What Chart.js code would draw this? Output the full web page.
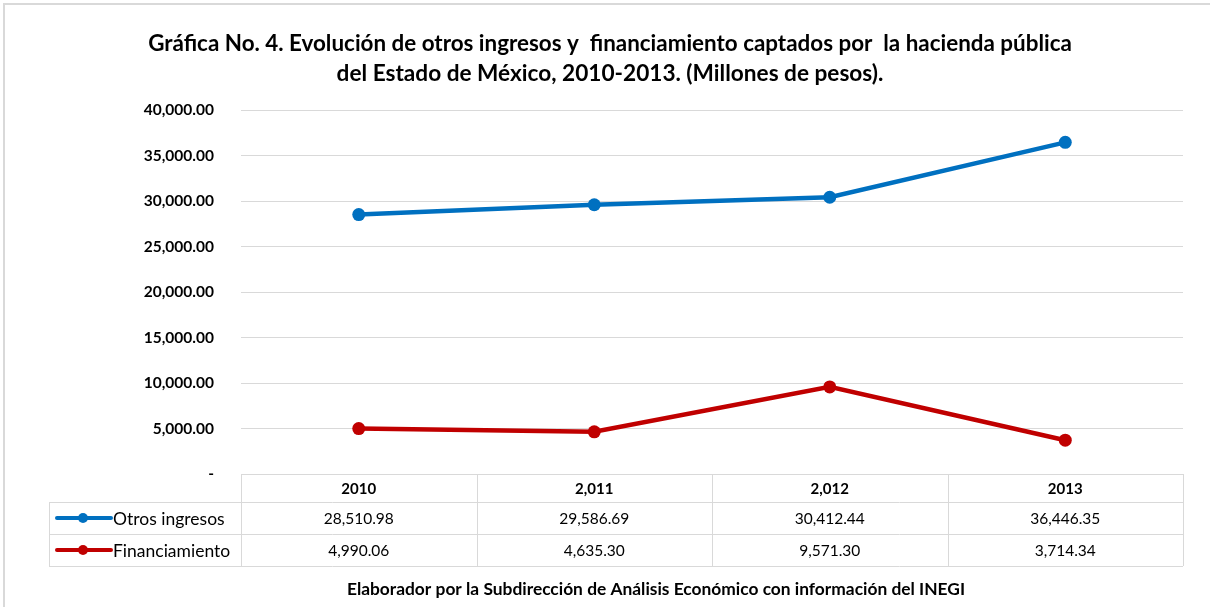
<!DOCTYPE html>
<html><head><meta charset="utf-8">
<script src="https://cdn.jsdelivr.net/npm/chart.js@4/dist/chart.umd.min.js"></script>
<style>html,body{margin:0;padding:0;background:#fff;}</style>
</head><body>
<canvas id="c" width="1210" height="607" style="display:block;width:1210px;height:607px"></canvas>
<script>
const categories = ['2010', '2,011', '2,012', '2013'];
const seriesNames = ['Otros ingresos', 'Financiamiento'];
const otrosIngresos = [28510.98, 29586.69, 30412.44, 36446.35];
const financiamiento = [4990.06, 4635.30, 9571.30, 3714.34];
const yTicks = [0, 5000, 10000, 15000, 20000, 25000, 30000, 35000, 40000];
const titleLines = ['Gráfica No. 4. Evolución de otros ingresos y  financiamiento captados por  la hacienda pública',
                    'del Estado de México, 2010-2013. (Millones de pesos).'];
const footerText = 'Elaborador por la Subdirección de Análisis Económico con información del INEGI';
const colors = ['#0070C0', '#C00000'];

const FAMILY = 'Lato, "Noto Sans", sans-serif';
const fmt = v => v === 0 ? '-' : v.toLocaleString('en-US', {minimumFractionDigits: 2, maximumFractionDigits: 2});

function fitFont(ctx, text, target, weight, base) {
  ctx.font = weight + ' ' + base + 'px ' + FAMILY;
  const w = ctx.measureText(text).width;
  const s = base * target / w;
  return weight + ' ' + s.toFixed(2) + 'px ' + FAMILY;
}

const decor = {
  id: 'decor',
  afterDraw(chart) {
    const ctx = chart.ctx;
    const ca = chart.chartArea;
    const xs = chart.scales.x;
    ctx.save();
    // outer frame (left/top)
    ctx.strokeStyle = '#d9d9d9';
    ctx.lineWidth = 2;
    ctx.beginPath();
    ctx.moveTo(4, 607); ctx.lineTo(4, 4); ctx.lineTo(1210, 4);
    ctx.stroke();

    // title
    ctx.fillStyle = '#000';
    ctx.textAlign = 'center';
    ctx.textBaseline = 'middle';
    ctx.font = fitFont(ctx, titleLines[0], 924, 'bold', 19);
    ctx.fillText(titleLines[0], 610, 44);
    ctx.font = fitFont(ctx, titleLines[1], 547, 'bold', 19);
    ctx.fillText(titleLines[1], 610, 74);

    // data table
    const step = xs.getPixelForValue(1) - xs.getPixelForValue(0);
    const top = ca.bottom;
    const rows = [top, top + 28, top + 60, top + 92];
    const legendLeft = 49;
    ctx.strokeStyle = '#d9d9d9';
    ctx.lineWidth = 1;
    ctx.beginPath();
    ctx.moveTo(ca.left, rows[0] + 0.5); ctx.lineTo(ca.right, rows[0] + 0.5);
    for (let r = 1; r < 4; r++) { ctx.moveTo(legendLeft, rows[r] + 0.5); ctx.lineTo(ca.right, rows[r] + 0.5); }
    for (let i = 0; i <= categories.length; i++) {
      const x = Math.round(xs.getPixelForValue(0) - step / 2 + i * step) + 0.5;
      ctx.moveTo(x, rows[0]); ctx.lineTo(x, rows[3]);
    }
    ctx.moveTo(legendLeft + 0.5, rows[1]); ctx.lineTo(legendLeft + 0.5, rows[3]);
    ctx.stroke();

    ctx.fillStyle = '#000';
    ctx.textAlign = 'center';
    ctx.font = 'bold 15px ' + FAMILY;
    categories.forEach((c, i) => ctx.fillText(c, xs.getPixelForValue(i), (rows[0] + rows[1]) / 2 + 1));
    const series = [otrosIngresos, financiamiento];
    ctx.font = '15.5px ' + FAMILY;
    series.forEach((s, r) => {
      const y = (rows[r + 1] + rows[r + 2]) / 2 + 1;
      s.forEach((v, i) => ctx.fillText(fmt(v), xs.getPixelForValue(i), y));
    });
    // legend keys
    series.forEach((s, r) => {
      const y = (rows[r + 1] + rows[r + 2]) / 2;
      ctx.strokeStyle = colors[r];
      ctx.fillStyle = colors[r];
      ctx.lineWidth = 4;
      ctx.lineCap = 'round';
      ctx.beginPath(); ctx.moveTo(57, y); ctx.lineTo(111, y); ctx.stroke();
      ctx.beginPath(); ctx.arc(83, y, 5, 0, Math.PI * 2); ctx.fill();
      ctx.fillStyle = '#000';
      ctx.textAlign = 'left';
      ctx.font = '17.5px ' + FAMILY;
      ctx.fillText(seriesNames[r], 113, y + 1);
    });

    // footer
    ctx.textAlign = 'center';
    ctx.fillStyle = '#000';
    ctx.font = fitFont(ctx, footerText, 619, 'bold', 14);
    ctx.fillText(footerText, 656, 589);
    ctx.restore();
  }
};

new Chart(document.getElementById('c'), {
  type: 'line',
  data: {
    labels: categories,
    datasets: [
      {label: seriesNames[0], data: otrosIngresos, borderColor: colors[0], backgroundColor: colors[0],
       borderWidth: 4.5, pointRadius: 6.5, pointHoverRadius: 6.5, pointBorderWidth: 0, pointBackgroundColor: colors[0], tension: 0},
      {label: seriesNames[1], data: financiamiento, borderColor: colors[1], backgroundColor: colors[1],
       borderWidth: 4.5, pointRadius: 6.5, pointHoverRadius: 6.5, pointBorderWidth: 0, pointBackgroundColor: colors[1], tension: 0}
    ]
  },
  options: {
    responsive: false,
    devicePixelRatio: 1,
    animation: false,
    layout: {padding: {top: 110, bottom: 133, left: 0, right: 27}},
    plugins: {legend: {display: false}, title: {display: false}, tooltip: {enabled: false}},
    scales: {
      x: {display: false, offset: true},
      y: {
        min: 0, max: 40000,
        afterFit: s => { s.width = 241; },
        afterBuildTicks: s => { s.ticks = yTicks.map(v => ({value: v})); },
        grid: {color: '#d9d9d9', lineWidth: 1, drawTicks: false},
        border: {display: false},
        ticks: {padding: 27, color: '#000', font: {family: FAMILY, size: 15.5, weight: 'bold'}, callback: v => fmt(v)}
      }
    }
  },
  plugins: [decor]
});
</script>
</body></html>
